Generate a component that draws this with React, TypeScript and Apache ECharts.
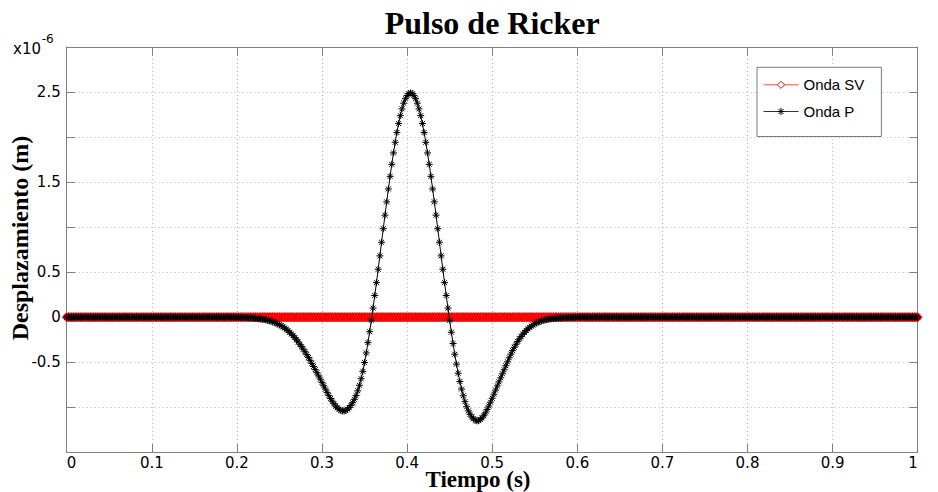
import React, { useEffect, useRef } from "react";
import * as echarts from "echarts";

// ---------------- data ----------------
const titulo = "Pulso de Ricker";
const nombreEjeX = "Tiempo (s)";
const nombreEjeY = "Desplazamiento (m)";
const nombresSeries = ["Onda SV", "Onda P"];
const multiplicadorY = "x10";
const exponenteY = "-6";

// y tick labels that are printed (other ticks keep only their grid line)
const etiquetasY = [2.5, 1.5, 0.5, 0, -0.5];

// sampling of the record (s)
const pasoTiempo = 0.002;
const numMuestras = 501; // 0 .. 1 s

// Onda SV: zero over the whole record (x1e-6 m)
const valorOndaSV = 0;

// Onda P: zero outside the pulse window; pulse samples every 0.002 s from 0.200 s (x1e-6 m)
const inicioPulsoP = 0.2;
const pulsoOndaP = [
  -0.001, -0.002, -0.002, -0.003, -0.003, -0.004, -0.005, -0.006, -0.007, -0.008,
  -0.010, -0.012, -0.015, -0.017, -0.020, -0.023, -0.026, -0.030, -0.034, -0.039,
  -0.045, -0.051, -0.058, -0.066, -0.075, -0.085, -0.095, -0.107, -0.120, -0.134,
  -0.150, -0.167, -0.186, -0.205, -0.227, -0.250, -0.275, -0.301, -0.327, -0.355,
  -0.384, -0.415, -0.447, -0.479, -0.512, -0.547, -0.582, -0.617, -0.652, -0.687,
  -0.726, -0.761, -0.798, -0.835, -0.870, -0.902, -0.933, -0.960, -0.986, -1.006,
  -1.022, -1.034, -1.040, -1.041, -1.035, -1.022, -1.004, -0.979, -0.950, -0.912,
  -0.870, -0.818, -0.756, -0.683, -0.601, -0.503, -0.397, -0.282, -0.161, -0.033,
  0.101, 0.241, 0.384, 0.532, 0.681, 0.832, 0.983, 1.133, 1.280, 1.424,
  1.564, 1.697, 1.824, 1.942, 2.051, 2.150, 2.238, 2.313, 2.376, 2.426,
  2.461, 2.483, 2.490, 2.483, 2.461, 2.426, 2.376, 2.313, 2.238, 2.150,
  2.051, 1.942, 1.824, 1.697, 1.564, 1.424, 1.280, 1.133, 0.983, 0.832,
  0.681, 0.532, 0.384, 0.241, 0.101, -0.034, -0.167, -0.292, -0.411, -0.521,
  -0.622, -0.714, -0.798, -0.873, -0.938, -0.994, -1.040, -1.078, -1.108, -1.129,
  -1.144, -1.150, -1.149, -1.136, -1.118, -1.095, -1.063, -1.025, -0.986, -0.944,
  -0.900, -0.855, -0.809, -0.763, -0.718, -0.673, -0.628, -0.584, -0.539, -0.496,
  -0.451, -0.410, -0.371, -0.334, -0.300, -0.269, -0.240, -0.214, -0.190, -0.168,
  -0.148, -0.129, -0.113, -0.099, -0.086, -0.074, -0.064, -0.055, -0.048, -0.042,
  -0.036, -0.031, -0.027, -0.023, -0.020, -0.017, -0.014, -0.012, -0.011, -0.009,
  -0.008, -0.007, -0.006, -0.005, -0.004, -0.004, -0.003, -0.003, -0.002, -0.002,
  -0.001,
];

// ---------------- build series data ----------------
const tiempo: number[] = Array.from({ length: numMuestras }, (_, i) =>
  Number((i * pasoTiempo).toFixed(3))
);
const offsetPulso = Math.round(inicioPulsoP / pasoTiempo);
const datosSV = tiempo.map((t) => [t, valorOndaSV]);
const datosP = tiempo.map((t, i) => {
  const j = i - offsetPulso;
  return [t, j >= 0 && j < pulsoOndaP.length ? pulsoOndaP[j] : 0];
});

const ASTERISCO =
  "path://M5,0L5,10M0,5L10,5M1.46,1.46L8.54,8.54M8.54,1.46L1.46,8.54";

const GRID = { left: 66.7, top: 47, width: 851, height: 405.3 };
const AXIS_COLOR = "#808080";
const GRID_LINE = { color: "#bdbdbd", width: 1, type: [1, 3] as number[] };

export default function App() {
  const ref = useRef<HTMLDivElement>(null);

  useEffect(() => {
    if (!ref.current) return;
    const chart = echarts.init(ref.current, undefined, { renderer: "svg" });

    const axisLine = { show: true, onZero: false, lineStyle: { color: AXIS_COLOR, width: 1 } };
    const axisTick = { show: true, inside: true, length: 8.5, lineStyle: { color: AXIS_COLOR, width: 1 } };

    const option: any = {
      animation: false,
      backgroundColor: "#ffffff",
      grid: { ...GRID, containLabel: false },
      xAxis: [
        {
          type: "value",
          min: 0,
          max: 1,
          interval: 0.1,
          position: "bottom",
          axisLine,
          axisTick,
          axisLabel: {
            color: "#000",
            fontFamily: "DejaVu Sans",
            fontSize: 15,
            lineHeight: 12,
            margin: 5,
            alignMinLabel: "left",
            alignMaxLabel: "right",
            formatter: (v: number) => String(Number(v.toFixed(1))),
          },
          splitLine: { show: true, lineStyle: GRID_LINE },
        },
        {
          type: "value",
          min: 0,
          max: 1,
          interval: 0.1,
          position: "top",
          axisLine,
          axisTick,
          axisLabel: { show: false },
          splitLine: { show: false },
        },
      ],
      yAxis: [
        {
          type: "value",
          min: -1.5,
          max: 3,
          interval: 0.5,
          position: "left",
          axisLine,
          axisTick,
          axisLabel: {
            color: "#000",
            fontFamily: "DejaVu Sans",
            fontSize: 15,
            margin: 6,
            formatter: (v: number) => {
              const r = Number(v.toFixed(2));
              return etiquetasY.includes(r) ? String(r) : "";
            },
          },
          splitLine: { show: true, lineStyle: GRID_LINE },
        },
        {
          type: "value",
          min: -1.5,
          max: 3,
          interval: 0.5,
          position: "right",
          axisLine,
          axisTick,
          axisLabel: { show: false },
          splitLine: { show: false },
        },
      ],
      legend: {
        orient: "vertical",
        left: 757,
        top: 67.3,
        padding: [10, 17, 17.5, 6],
        itemGap: 11.7,
        itemWidth: 35,
        itemHeight: 9,
        backgroundColor: "#ffffff",
        borderColor: "#7a7a7a",
        borderWidth: 1,
        selectedMode: false,
        textStyle: { fontFamily: "Liberation Sans", fontSize: 15, color: "#000" },
        data: [
          {
            name: nombresSeries[0],
            itemStyle: { color: "#ffffff", borderColor: "#ff0000", borderWidth: 1 },
            lineStyle: { color: "#ff4d4d", width: 1 },
          },
          {
            name: nombresSeries[1],
            itemStyle: { color: "#000", borderColor: "#000", borderWidth: 1 },
            lineStyle: { color: "#333", width: 1 },
          },
        ],
      },
      series: [
        {
          name: nombresSeries[0],
          type: "line",
          data: datosSV,
          xAxisIndex: 0,
          yAxisIndex: 0,
          symbol: "diamond",
          symbolSize: [9, 9.5],
          showAllSymbol: true,
          clip: false,
          silent: true,
          itemStyle: { color: "#ff0000", borderColor: "#ff0000", borderWidth: 0.6 },
          lineStyle: { color: "#ff0000", width: 0.8 },
          emphasis: { disabled: true },
          z: 2,
        },
        {
          name: nombresSeries[1],
          type: "line",
          data: datosP,
          xAxisIndex: 0,
          yAxisIndex: 0,
          symbol: ASTERISCO,
          symbolSize: 7,
          symbolKeepAspect: true,
          showAllSymbol: true,
          clip: false,
          silent: true,
          itemStyle: { color: "#000", borderColor: "#000", borderWidth: 1 },
          lineStyle: { color: "#000", width: 1 },
          emphasis: { disabled: true },
          z: 3,
        },
      ],
      graphic: [
        {
          type: "text",
          x: 492.2,
          y: 23,
          silent: true,
          style: {
            text: titulo,
            fontFamily: "Liberation Serif",
            fontWeight: "bold",
            fontSize: 32,
            fill: "#000",
            align: "center",
            verticalAlign: "middle",
          },
        },
        {
          type: "text",
          x: 478,
          y: 479.5,
          silent: true,
          style: {
            text: nombreEjeX,
            fontFamily: "Liberation Serif",
            fontWeight: "bold",
            fontSize: 23,
            lineHeight: 20,
            fill: "#000",
            align: "center",
            verticalAlign: "middle",
          },
        },
        {
          type: "text",
          x: 20,
          y: 238,
          rotation: Math.PI / 2,
          silent: true,
          style: {
            text: nombreEjeY,
            fontFamily: "Liberation Serif",
            fontWeight: "bold",
            fontSize: 24,
            fill: "#000",
            align: "center",
            verticalAlign: "middle",
          },
        },
        {
          type: "text",
          x: 13,
          y: 49.3,
          silent: true,
          style: {
            text: multiplicadorY,
            fontFamily: "DejaVu Sans",
            fontSize: 15,
            fill: "#000",
            align: "left",
            verticalAlign: "middle",
          },
        },
        {
          type: "text",
          x: 41.7,
          y: 39.3,
          silent: true,
          style: {
            text: exponenteY,
            fontFamily: "DejaVu Sans",
            fontSize: 12,
            fill: "#000",
            align: "left",
            verticalAlign: "middle",
          },
        },
      ],
    };

    chart.setOption(option);
    return () => chart.dispose();
  }, []);

  return (
    <div
      ref={ref}
      style={{ position: "fixed", left: 0, top: 0, width: 938, height: 492, background: "#fff" }}
    />
  );
}
